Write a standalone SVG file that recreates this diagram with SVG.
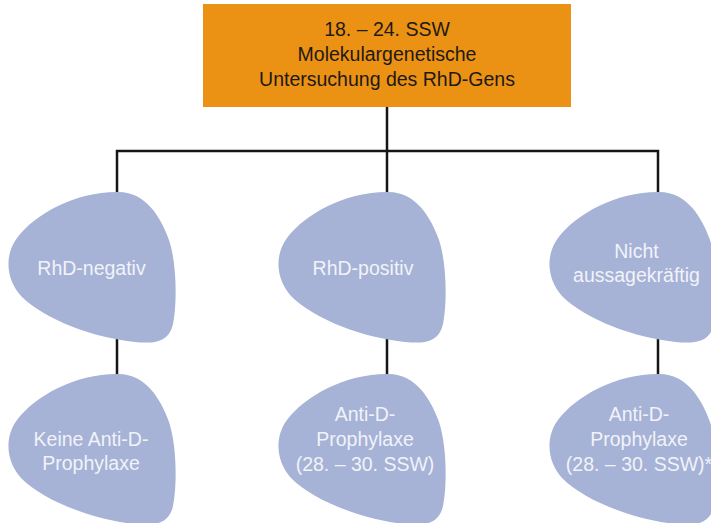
<svg xmlns="http://www.w3.org/2000/svg" xmlns:xlink="http://www.w3.org/1999/xlink" width="711" height="523" viewBox="0 0 711 523">
<style>
.conn{stroke:#151515;stroke-width:2.5;fill:none;stroke-linecap:square}
.blob{fill:#a6b2d6}
.bt{font-family:"Liberation Sans",Arial,sans-serif;font-size:19.5px;fill:#f1f3f9;text-anchor:middle}
.ht{font-family:"Liberation Sans",Arial,sans-serif;font-size:19.5px;fill:#1e1a14;text-anchor:middle}
</style>
<defs>
<path id="blobshape" d="M0,0 C28,-1 44,25 52,48 C60,72 60,112 56,132 C52,150 38,152 18,150 C-22,146 -72,128 -96,104 C-112,86 -112,62 -100,46 C-82,22 -42,0 0,0 Z"/>
</defs>
<g id="connectors">
<path class="conn" d="M387,107 V151 M117,151 H658 M117,151 V194 M387,151 V194 M658,151 V194 M117,340 V376 M387,340 V376 M658,340 V376"/>
</g>
<g id="top">
<rect x="203" y="4" width="368" height="103" fill="#eb9114"/>
<text class="ht" x="387" y="36">18. – 24. SSW</text>
<text class="ht" x="387" y="61">Molekulargenetische</text>
<text class="ht" x="387" y="86">Untersuchung des RhD-Gens</text>
</g>
<g id="rhd-negativ">
<use xlink:href="#blobshape" class="blob" transform="translate(117,192)"/>
<text class="bt" x="91.5" y="275">RhD-negativ</text>
</g>
<g id="rhd-positiv">
<use xlink:href="#blobshape" class="blob" transform="translate(387,192)"/>
<text class="bt" x="363" y="275">RhD-positiv</text>
</g>
<g id="nicht-aussagekraeftig">
<use xlink:href="#blobshape" class="blob" transform="translate(658,192)"/>
<text class="bt" x="636.5" y="258">Nicht</text>
<text class="bt" x="636.5" y="282">aussagekräftig</text>
</g>
<g id="keine-prophylaxe">
<use xlink:href="#blobshape" class="blob" transform="translate(117,374)"/>
<text class="bt" x="91" y="446">Keine Anti-D-</text>
<text class="bt" x="91" y="470">Prophylaxe</text>
</g>
<g id="prophylaxe-positiv">
<use xlink:href="#blobshape" class="blob" transform="translate(387,374)"/>
<text class="bt" x="365" y="421">Anti-D-</text>
<text class="bt" x="365" y="446">Prophylaxe</text>
<text class="bt" x="365" y="471">(28. – 30. SSW)</text>
</g>
<g id="prophylaxe-unklar">
<use xlink:href="#blobshape" class="blob" transform="translate(658,374)"/>
<text class="bt" x="639" y="421">Anti-D-</text>
<text class="bt" x="639" y="446">Prophylaxe</text>
<text class="bt" x="639" y="471">(28. – 30. SSW)*</text>
</g>
</svg>
